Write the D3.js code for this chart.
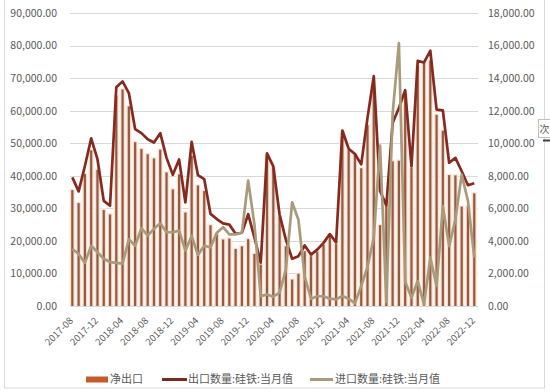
<!DOCTYPE html>
<html><head><meta charset="utf-8">
<script src="https://cdn.jsdelivr.net/npm/d3@7"></script>
<style>body{margin:0;background:#fff}svg{display:block}</style>
</head><body><svg id="c" width="550" height="392"></svg>
<script>
const months = ["2017-08","2017-09","2017-10","2017-11","2017-12","2018-01","2018-02","2018-03","2018-04","2018-05","2018-06","2018-07","2018-08","2018-09","2018-10","2018-11","2018-12","2019-01","2019-02","2019-03","2019-04","2019-05","2019-06","2019-07","2019-08","2019-09","2019-10","2019-11","2019-12","2020-01","2020-02","2020-03","2020-04","2020-05","2020-06","2020-07","2020-08","2020-09","2020-10","2020-11","2020-12","2021-01","2021-02","2021-03","2021-04","2021-05","2021-06","2021-07","2021-08","2021-09","2021-10","2021-11","2021-12","2022-01","2022-02","2022-03","2022-04","2022-05","2022-06","2022-07","2022-08","2022-09","2022-10","2022-11","2022-12"];
const netExport = [35600,31600,40500,47800,41800,29500,28100,64500,66500,61300,50300,48200,46600,45300,48000,41000,35800,40400,28700,46100,37000,35300,24800,22000,20400,20700,17500,18300,20500,16000,12700,46200,42300,27400,18300,8100,9900,16800,15300,16700,18800,21600,19000,53300,47900,46500,42300,55500,66400,24800,30600,44400,44600,64800,42400,73700,74700,75400,58700,53800,40200,40100,30500,30700,34600];
const exportQty = [39500,35200,43000,51500,45100,32300,30800,67200,69000,65400,54300,53100,51200,50200,53100,45500,40300,45000,31800,50400,40200,39000,28300,26700,25400,25000,22200,22500,28200,21000,13300,46900,42900,28100,20400,14500,15300,18600,15800,17300,19400,22100,19500,53900,48300,46700,43500,57800,70600,35300,30900,56200,60800,66300,42900,75300,74800,78400,60300,60100,44000,45500,41400,37100,37700];
const importQty = [3500,3200,2650,3700,3300,2900,2700,2650,2600,4100,3700,4780,4330,4740,5080,4530,4530,4630,3400,4300,3140,3700,3600,4500,4840,4400,4400,4500,7700,5000,610,710,570,820,2240,6370,5300,1800,450,600,600,450,410,610,450,160,1230,2400,4200,9860,250,11800,16150,1500,500,1530,100,2970,1230,6130,3680,5320,8080,6440,2970];
const xTickLabels = ["2017-08","2017-12","2018-04","2018-08","2018-12","2019-04","2019-08","2019-12","2020-04","2020-08","2020-12","2021-04","2021-08","2021-12","2022-04","2022-08","2022-12"];
const leftTicks = [0,10000,20000,30000,40000,50000,60000,70000,80000,90000];
const rightTicks = [0,2000,4000,6000,8000,10000,12000,14000,16000,18000];
const seriesNames = ["净出口","出口数量:硅铁:当月值","进口数量:硅铁:当月值"];

const FONT = "'Noto Sans CJK SC','Noto Sans',sans-serif";
const svg = d3.select("#c");

// chart frame
svg.append("rect").attr("x",4.5).attr("y",-1).attr("width",540).attr("height",389)
  .attr("fill","#fff").attr("stroke","#d9d9d9");

const x = d3.scaleBand().domain(months).range([69.2, 477.4]);
const yL = d3.scaleLinear().domain([0,90000]).range([306,13]);
const yR = d3.scaleLinear().domain([0,18000]).range([306,13]);
const bw = x.bandwidth();
const cx = m => x(m) + bw/2;

// gridlines
svg.append("g").selectAll("line").data(leftTicks).join("line")
  .attr("x1",70).attr("x2",478)
  .attr("y1",d=>Math.round(yL(d))+0.5).attr("y2",d=>Math.round(yL(d))+0.5)
  .attr("stroke","#d9d9d9").attr("stroke-width",1);

// axes
const fmt = d3.format(",.2f");
const gl = svg.append("g").attr("transform","translate(70,0)")
  .call(d3.axisLeft(yL).tickValues(leftTicks).tickFormat(fmt).tickSize(0).tickPadding(13));
const gr = svg.append("g").attr("transform","translate(478,0)")
  .call(d3.axisRight(yR).tickValues(rightTicks).tickFormat(fmt).tickSize(0).tickPadding(10));
const gx = svg.append("g").attr("transform","translate(0,306)")
  .call(d3.axisBottom(x).tickValues(xTickLabels).tickSize(0));
[gl,gr,gx].forEach(g=>{
  g.select(".domain").remove();
  g.selectAll("text").attr("fill","#595959").style("font-family",FONT).style("font-size","10.5px");
});
gx.selectAll("text").attr("x",0).attr("y",0).attr("dy","0.35em")
  .attr("text-anchor","end").style("font-size","9.5px")
  .attr("transform","translate(-1,13) rotate(-45)");

// bars with glow
const bars = svg.append("g");
bars.selectAll("rect.g1").data(months).join("rect").attr("class","g1")
  .attr("x",m=>cx(m)-3).attr("width",6)
  .attr("y",(m,i)=>yL(netExport[i])-1.5).attr("height",(m,i)=>yL(0)-yL(netExport[i])+1.5)
  .attr("fill","#fdf0e7");
bars.selectAll("rect.g2").data(months).join("rect").attr("class","g2")
  .attr("x",m=>cx(m)-2).attr("width",4)
  .attr("y",(m,i)=>yL(netExport[i])-0.8).attr("height",(m,i)=>yL(0)-yL(netExport[i])+0.8)
  .attr("fill","#f7d9c6");
bars.selectAll("rect.core").data(months).join("rect").attr("class","core")
  .attr("x",m=>cx(m)-1.1).attr("width",2.2)
  .attr("y",(m,i)=>yL(netExport[i])).attr("height",(m,i)=>yL(0)-yL(netExport[i]))
  .attr("fill","#925b46");

// lines
const lineE = d3.line().x((d,i)=>cx(months[i])).y(d=>yL(d));
const lineI = d3.line().x((d,i)=>cx(months[i])).y(d=>yR(d));
svg.append("path").datum(exportQty).attr("d",lineE).attr("fill","none")
  .attr("stroke","#86291f").attr("stroke-width",2.7).attr("stroke-linejoin","round");
svg.append("path").datum(importQty).attr("d",lineI).attr("fill","none")
  .attr("stroke","#a99a7c").attr("stroke-width",2.7).attr("stroke-linejoin","round");

// legend
const lg = svg.append("g").style("font-family",FONT).style("font-size","11px");
lg.append("rect").attr("x",86).attr("y",376.5).attr("width",22).attr("height",6).attr("fill","#c55a2a");
lg.append("text").attr("x",110).attr("y",379.5).attr("dy","0.35em").attr("fill","#595959").text(seriesNames[0]);
lg.append("line").attr("x1",162).attr("x2",187).attr("y1",379.5).attr("y2",379.5).attr("stroke","#7b2a20").attr("stroke-width",3);
lg.append("text").attr("x",188).attr("y",379.5).attr("dy","0.35em").attr("fill","#595959").text(seriesNames[1]);
lg.append("line").attr("x1",310).attr("x2",333).attr("y1",379.5).attr("y2",379.5).attr("stroke","#a99a7c").attr("stroke-width",3);
lg.append("text").attr("x",335).attr("y",379.5).attr("dy","0.35em").attr("fill","#595959").text(seriesNames[2]);

// partial floating label at right edge
svg.append("rect").attr("x",538.5).attr("y",119.5).attr("width",14).attr("height",18)
  .attr("fill","#fff").attr("stroke","#bfbfbf");
svg.append("text").attr("x",539.5).attr("y",132.5).attr("fill","#595959")
  .style("font-family",FONT).style("font-size","10px").text("次");
svg.append("line").attr("x1",543).attr("x2",550).attr("y1",140.5).attr("y2",140.5)
  .attr("stroke","#404040").attr("stroke-width",2);
</script></body></html>
